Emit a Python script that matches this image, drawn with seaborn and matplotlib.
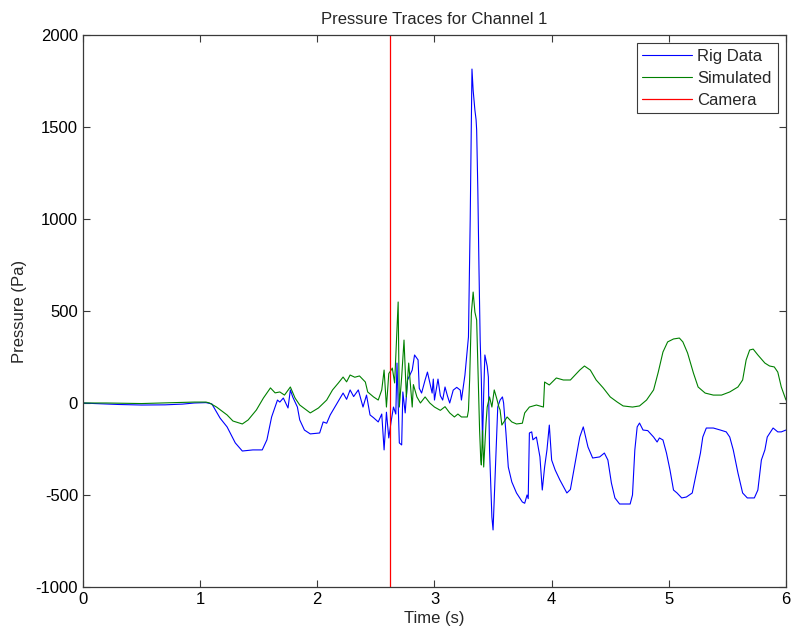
import matplotlib

matplotlib.use("Agg")

import matplotlib.pyplot as plt
import numpy as np
import pandas as pd
import seaborn as sns

# values (time in s, pressure in Pa)
rig_t = [0.00, 0.10, 0.30, 0.50, 0.70, 0.85, 0.95, 1.05, 1.10, 1.17, 1.23, 1.30, 1.36, 1.45, 1.53,
         1.57, 1.61, 1.66, 1.68, 1.71, 1.75, 1.77, 1.79, 1.83, 1.85, 1.89, 1.94, 2.02, 2.05, 2.08,
         2.11, 2.17, 2.22, 2.25, 2.28, 2.31, 2.35, 2.39, 2.42, 2.45, 2.48, 2.52, 2.55, 2.57, 2.59,
         2.61, 2.63, 2.65, 2.67, 2.68, 2.70, 2.72, 2.73, 2.75, 2.77, 2.81, 2.83, 2.86, 2.87, 2.89,
         2.92, 2.94, 2.98, 2.99, 3.00, 3.03, 3.05, 3.07, 3.09, 3.11, 3.13, 3.16, 3.19, 3.22, 3.23,
         3.26, 3.29, 3.305, 3.32, 3.33, 3.345, 3.355, 3.36, 3.37, 3.38, 3.39, 3.40, 3.41, 3.42, 3.43,
         3.45, 3.46, 3.47, 3.49, 3.50, 3.52, 3.54, 3.56, 3.58, 3.59, 3.61, 3.63, 3.66, 3.70, 3.75,
         3.77, 3.79, 3.80, 3.81, 3.83, 3.84, 3.87, 3.90, 3.92, 3.94, 3.96, 3.98, 4.00, 4.03, 4.07,
         4.13, 4.16, 4.20, 4.24, 4.27, 4.31, 4.35, 4.41, 4.45, 4.48, 4.51, 4.54, 4.58, 4.67, 4.69,
         4.71, 4.73, 4.75, 4.78, 4.82, 4.87, 4.90, 4.92, 4.95, 4.98, 5.01, 5.04, 5.07, 5.11, 5.15,
         5.20, 5.24, 5.27, 5.29, 5.32, 5.38, 5.44, 5.49, 5.52, 5.55, 5.59, 5.63, 5.67, 5.73, 5.76,
         5.79, 5.82, 5.84, 5.89, 5.93, 5.96, 6.00]
rig_p = [0, -3, -8, -11, -10, -6, 0, 2, -5, -82, -130, -217, -261, -255, -255,
         -200, -76, 16, 5, 27, -27, 71, 33, -22, -92, -147, -168, -163, -103, -110,
         -65, 0, 54, 20, 71, 35, 71, -22, 43, -65, -80, -103, -60, -255, -50,
         -190, -100, -22, -60, 217, -217, -228, 60, -54, 125, 179, 261, 234, 80, 54,
         125, 168, 54, 130, 16, 130, 40, 16, 87, 40, 0, 70, 85, 70, 16,
         152, 359, 1000, 1815, 1700, 1592, 1540, 1484, 1158, 723, 342, 125, -217, 50, 261,
         200, 141, -255, -620, -690, -348, -22, 16, 33, 0, -163, -348, -429, -489, -538,
         -545, -500, -520, -163, -157, -200, -185, -293, -473, -348, -255, -120, -310, -364, -418,
         -489, -470, -326, -185, -130, -239, -299, -293, -272, -310, -435, -516, -549, -549, -500,
         -255, -130, -109, -147, -150, -185, -212, -190, -201, -272, -364, -473, -489, -516, -511,
         -489, -364, -272, -185, -136, -136, -147, -157, -185, -255, -380, -489, -516, -516, -473,
         -310, -255, -185, -136, -157, -157, -147]

sim_t = [0.00, 0.20, 0.50, 0.80, 0.95, 1.05, 1.08, 1.14, 1.23, 1.28, 1.36, 1.41, 1.48, 1.54, 1.60,
         1.64, 1.68, 1.72, 1.77, 1.81, 1.85, 1.94, 2.01, 2.08, 2.13, 2.18, 2.22, 2.25, 2.28, 2.32,
         2.36, 2.41, 2.43, 2.48, 2.52, 2.55, 2.57, 2.59, 2.61, 2.63, 2.64, 2.66, 2.69, 2.70, 2.72,
         2.74, 2.76, 2.78, 2.81, 2.82, 2.85, 2.88, 2.92, 2.96, 3.00, 3.05, 3.09, 3.13, 3.17, 3.20,
         3.23, 3.28, 3.29, 3.30, 3.315, 3.33, 3.345, 3.36, 3.37, 3.385, 3.395, 3.40, 3.41, 3.42, 3.44,
         3.45, 3.47, 3.49, 3.51, 3.53, 3.55, 3.56, 3.575, 3.62, 3.66, 3.70, 3.75, 3.77, 3.81, 3.87,
         3.93, 3.94, 3.98, 4.04, 4.10, 4.16, 4.20, 4.24, 4.28, 4.33, 4.38, 4.44, 4.50, 4.56, 4.61,
         4.69, 4.75, 4.81, 4.87, 4.91, 4.95, 4.99, 5.04, 5.09, 5.12, 5.16, 5.21, 5.25, 5.31, 5.38,
         5.45, 5.52, 5.59, 5.63, 5.66, 5.69, 5.72, 5.76, 5.82, 5.86, 5.90, 5.93, 5.96, 6.00]
sim_p = [0, 0, -3, 2, 5, 5, 0, -22, -65, -98, -114, -92, -38, 27, 82,
         55, 60, 43, 87, 27, -11, -54, -27, 16, 71, 109, 141, 115, 152, 140,
         147, 114, 60, 33, 16, 71, 179, -22, 160, 179, 190, 109, 549, -22, 141,
         342, 33, 217, -22, 100, 33, 0, 33, 0, -22, -40, -20, -54, -76, -60,
         -76, -76, -40, 125, 489, 603, 494, 451, 217, -147, -310, -337, -150, -348, -109,
         -22, 33, -22, 71, 27, -22, -38, -120, -76, -103, -114, -110, -54, -22, -11,
         -22, 114, 98, 136, 125, 125, 152, 179, 201, 179, 125, 82, 33, 5, -16,
         -22, -16, 16, 71, 168, 277, 332, 348, 353, 332, 272, 163, 87, 54, 43,
         43, 60, 87, 125, 234, 288, 293, 261, 217, 201, 196, 168, 87, 16]

camera_t = 2.62
series_names = ["Rig Data", "Simulated", "Camera"]

sns.set_style("white", {
    "xtick.direction": "in", "ytick.direction": "in",
    "xtick.top": True, "ytick.right": True,
    "xtick.bottom": True, "ytick.left": True,
    "axes.edgecolor": "#3a3a3a",
})
plt.rcParams["font.family"] = ["Liberation Sans", "DejaVu Sans"]
plt.rcParams["font.size"] = 12
plt.rcParams["axes.unicode_minus"] = False

rig = pd.DataFrame({"t": rig_t, "p": rig_p})
sim = pd.DataFrame({"t": sim_t, "p": sim_p})

fig = plt.figure(figsize=(7.94, 6.39), dpi=100)
ax = fig.add_axes([0.1045, 0.0814, 0.8854, 0.8638])

sns.lineplot(data=rig, x="t", y="p", ax=ax, color="#0000ff", lw=0.8,
             estimator=None, sort=False, label=series_names[0])
sns.lineplot(data=sim, x="t", y="p", ax=ax, color="#008000", lw=0.8,
             estimator=None, sort=False, label=series_names[1])
ax.axvline(camera_t, color="#ff0000", lw=0.9, label=series_names[2])

ax.set_xlim(0, 6)
ax.set_ylim(-1000, 2000)
ax.set_xticks(np.arange(0, 7, 1))
ax.set_yticks(np.arange(-1000, 2001, 500))
ax.tick_params(length=5, width=0.8, colors="#3a3a3a", labelcolor="black", labelsize=12)
for s in ax.spines.values():
    s.set_linewidth(0.9)

ax.set_title("Pressure Traces for Channel 1", fontsize=12, pad=8)
ax.set_xlabel("Time (s)", fontsize=12, labelpad=3)
ax.set_ylabel("Pressure (Pa)", fontsize=12, labelpad=6)

leg = ax.legend(loc="upper right", fontsize=12, frameon=True, fancybox=False,
                edgecolor="#3a3a3a", framealpha=1, handlelength=3.0,
                handletextpad=0.3, labelspacing=0.4, borderpad=0.35,
                borderaxespad=0.5)
leg.get_frame().set_linewidth(0.8)

fig.savefig("out.png", dpi=100)
plt.close(fig)
